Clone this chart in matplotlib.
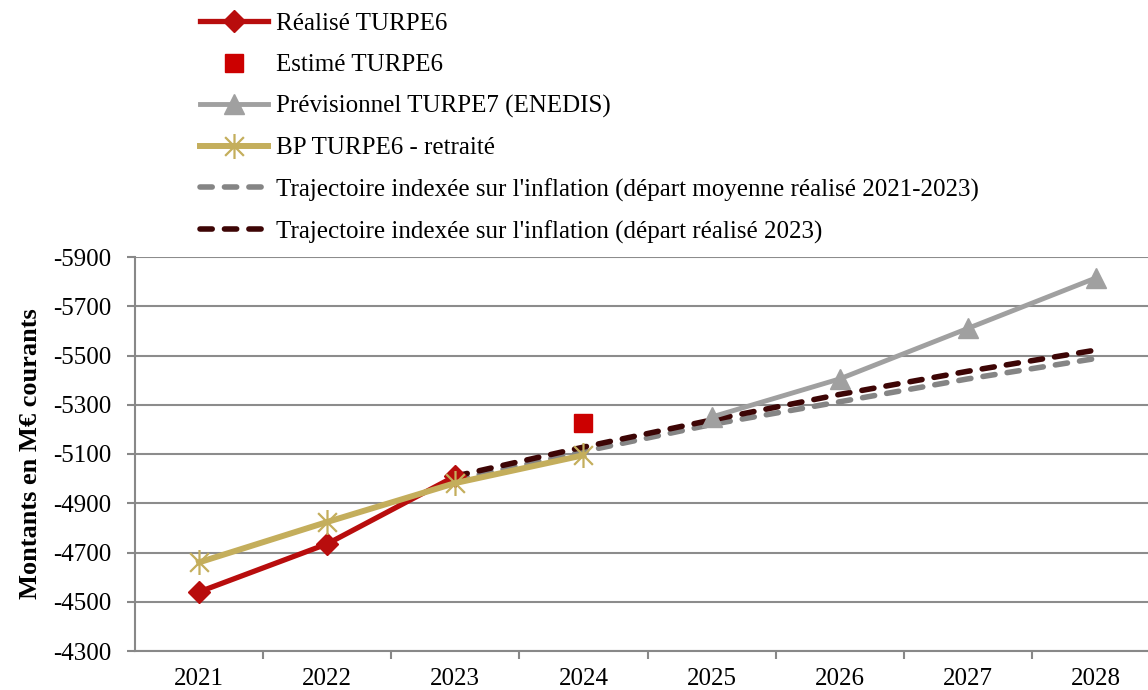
import matplotlib
matplotlib.use("Agg")
import matplotlib.pyplot as plt
from matplotlib.path import Path
import numpy as np

years = ["2021", "2022", "2023", "2024", "2025", "2026", "2027", "2028"]

realise = [-4540, -4735, -5010]
estime = [-5225]
previsionnel = [-5250, -5405, -5610, -5815]
bp_retraite = [-4660, -4824, -4982, -5095]
traj_moyenne = [-4995, -5110, -5220, -5312, -5405, -5488]
traj_2023 = [-5010, -5128, -5238, -5342, -5436, -5522]

plt.rcParams.update({
    "font.family": ["Liberation Serif", "DejaVu Serif"],
    "font.size": 18,
    "axes.unicode_minus": False,
})

# Excel-like star marker: an X plus a vertical bar
star = Path([(0, -1), (0, 1), (-0.75, -0.75), (0.75, 0.75), (-0.75, 0.75), (0.75, -0.75)],
            [Path.MOVETO, Path.LINETO] * 3)

fig = plt.figure(figsize=(11.48, 6.9), dpi=100)
ax = fig.add_axes([135 / 1148, 1 - 651 / 690, 1025 / 1148, 394 / 690])

x = np.arange(len(years))
RED = "#B80D0D"
GREY = "#A0A0A0"
GOLD = "#C4AE5C"

ax.plot(x[2:], traj_moyenne, color="#858585", lw=4, ls="--", dashes=(2.2, 2.2),
        dash_capstyle="round", label="Trajectoire indexée sur l'inflation (départ moyenne réalisé 2021-2023)", zorder=2)
ax.plot(x[2:], traj_2023, color="#3D0505", lw=4, ls="--", dashes=(2.2, 2.2),
        dash_capstyle="round", label="Trajectoire indexée sur l'inflation (départ réalisé 2023)", zorder=3)
ax.plot(x[4:], previsionnel, color=GREY, lw=3.5, marker="^", ms=15, mec=GREY,
        label="Prévisionnel TURPE7 (ENEDIS)", zorder=4)
ax.plot(x[:3], realise, color=RED, lw=3.8, marker="D", ms=11, mec=RED,
        label="Réalisé TURPE6", zorder=5)
ax.plot(x[3:4], estime, color="#CC0000", lw=0, marker="s", ms=13,
        label="Estimé TURPE6", zorder=5)
ax.plot(x[:4], bp_retraite, color=GOLD, lw=4.3, marker=star, ms=18, mew=1.6,
        mec=GOLD, label="BP TURPE6 - retraité", zorder=6)

ax.set_xlim(-0.5, len(years) - 0.5)
ax.set_ylim(-4300, -5900)
ax.set_yticks(np.arange(-4300, -5901, -200))
ax.set_xticks(x)
ax.set_xticklabels(years)
ax.set_xticks(np.arange(0.5, len(years) - 0.5, 1), minor=True)
ax.tick_params(axis="x", which="major", length=0, pad=12)
ax.tick_params(axis="x", which="minor", length=6, width=1.5, color="#888888", direction="out")
ax.tick_params(axis="y", length=6, width=1.5, color="#888888", pad=11)

ax.grid(axis="y", color="#8C8C8C", lw=1.5)
ax.set_axisbelow(True)
for side in ["top", "right"]:
    ax.spines[side].set_visible(False)
for side in ["left", "bottom"]:
    ax.spines[side].set_color("#888888")
    ax.spines[side].set_linewidth(1.5)

ax.set_ylabel("Montants en M€ courants", fontweight="bold", fontsize=19, labelpad=8)

handles, labels = ax.get_legend_handles_labels()
order = ["Réalisé TURPE6", "Estimé TURPE6", "Prévisionnel TURPE7 (ENEDIS)", "BP TURPE6 - retraité",
         "Trajectoire indexée sur l'inflation (départ moyenne réalisé 2021-2023)",
         "Trajectoire indexée sur l'inflation (départ réalisé 2023)"]
lookup = dict(zip(labels, handles))
fig.legend([lookup[k] for k in order], order, loc="upper left",
           bbox_to_anchor=(182 / 1148, 1.0 + 5 / 690), frameon=False, handlelength=2.75,
           handletextpad=0.3, labelspacing=0.75, borderaxespad=0.3)

fig.savefig("out.png", dpi=100)
